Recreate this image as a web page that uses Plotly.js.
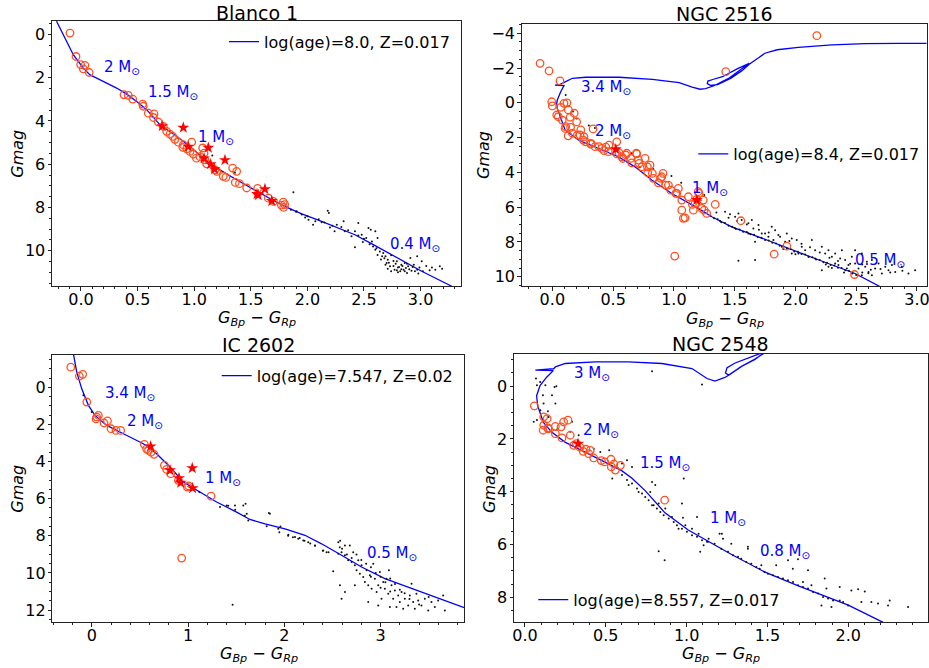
<!DOCTYPE html>
<html>
<head>
<meta charset="utf-8">
<script src="https://cdn.plot.ly/plotly-3.0.1.min.js"></script>
<style>html,body{margin:0;padding:0;background:#fff;}#chart{width:929px;height:668px;}</style>
</head>
<body>
<div id="chart"></div>
<script>
// ---------------- Data ----------------
const panelTitles = ['Blanco 1', 'NGC 2516', 'IC 2602', 'NGC 2548'];
const isoLabels = ['log(age)=8.0, Z=0.017', 'log(age)=8.4, Z=0.017', 'log(age)=7.547, Z=0.02', 'log(age)=8.557, Z=0.017'];

// Blanco 1
const b1_iso_x = [-0.216,-0.141,-0.068,0.02,0.08,0.139,0.227,0.315,0.403,0.492,0.58,0.698,0.845,0.963,1.08,1.2,1.375,1.552,1.68,1.80,1.95,2.126,2.28,2.42,2.57,2.715,2.86,3.01,3.275];
const b1_iso_y = [-0.61,0.17,0.94,1.56,1.87,2.02,2.25,2.48,2.76,3.10,3.48,4.18,4.71,5.18,5.72,6.18,6.72,7.26,7.62,7.95,8.30,8.64,8.95,9.26,9.68,10.11,10.52,10.95,11.64];
const b1_members = [[-0.097,-0.06],[-0.044,1.02],[-0.003,1.40],[0.035,1.43],[0.02,1.59],[0.073,1.76],[0.38,2.79],[0.418,2.82],[0.457,2.99],[0.545,3.22],[0.55,3.32],[0.595,3.64],[0.645,3.67],[0.64,3.84],[0.683,4.05],[0.727,4.25],[0.757,4.48],[0.786,4.61],[0.81,4.71],[0.83,4.85],[0.86,4.98],[0.904,5.10],[0.90,5.22],[0.978,4.98],[0.934,5.29],[0.963,5.41],[0.993,5.53],[1.02,5.72],[1.05,5.65],[1.075,5.25],[1.087,5.49],[1.095,5.80],[1.11,5.98],[1.184,6.26],[1.2,6.33],[1.257,6.56],[1.28,6.61],[1.34,6.18],[1.375,6.33],[1.363,6.84],[1.40,6.90],[1.464,7.10],[1.56,7.12],[1.655,7.57],[1.70,7.72],[1.787,7.75],[1.80,7.87],[1.79,8.0],[1.77,7.89]];
const b1_stars = [[0.718,4.24],[0.904,4.31],[0.948,5.19],[1.125,5.24],[1.087,5.73],[1.145,6.0],[1.18,6.23],[1.272,5.81],[1.625,7.15],[1.566,7.43],[1.555,7.38],[1.685,7.70]];
const b1_field = [[1.16,5.6],[1.36,6.4],[1.876,7.30],[1.855,8.10],[1.905,8.18],[1.95,8.33],[1.98,8.46],[2.01,8.57],[2.05,8.80],[2.07,8.64],[2.126,8.68],[2.18,8.15],[2.19,8.26],[2.20,8.92],[2.24,9.10],[2.26,8.80],[2.32,8.64],[2.33,9.10],[2.39,9.33],[2.42,9.10],[2.42,9.84],[2.45,8.72],[2.48,9.26],[2.49,9.60],[2.52,9.41],[2.54,8.95],[2.56,9.03],[2.57,9.57],[2.58,9.80],[2.60,9.10],[2.61,9.88],[2.62,9.41],[2.64,10.03],[2.66,10.26],[2.67,10.11],[2.69,10.26],[2.70,10.57],[2.71,10.42],[2.71,10.83],[2.73,10.72],[2.74,10.21],[2.74,10.95],[2.76,10.48],[2.77,10.88],[2.79,10.49],[2.80,10.77],[2.82,10.95],[2.83,10.65],[2.85,10.88],[2.86,10.57],[2.88,11.03],[2.89,10.72],[2.91,10.34],[2.92,10.92],[2.94,10.65],[2.97,10.26],[2.97,10.88],[2.99,10.77],[3.01,10.49],[3.02,10.95],[3.10,10.77],[3.13,10.88],[3.17,10.72],[3.19,10.83],
[2.78,10.6],[2.81,10.75],[2.84,10.7],[2.87,10.8],[2.90,10.85],[2.83,10.85],[2.76,10.7],[2.79,10.9],[2.86,10.95],[2.93,10.75],[2.95,10.95],[2.88,10.6],[2.72,10.55],[2.69,10.65],[2.80,11.0],[2.98,11.05],[3.05,10.7],[3.08,10.9],[2.65,10.4],[2.62,10.2],[2.55,9.7],[2.50,9.45],[2.45,9.3],[2.36,9.05],[2.30,8.9],[2.00,8.4],[1.90,8.2],[2.10,8.55],[2.15,8.7],[2.22,8.85],[2.60,9.95],[2.68,10.35]];
const b1_mass_txt = ['2', '1.5', '1', '0.4'];
const b1_mass_x = [0.183, 0.572, 1.016, 2.715];
const b1_mass_y = [1.54, 2.70, 4.78, 9.70];

// NGC 2516
const n16_iso_x = [2.70,2.49,2.16,1.913,1.695,1.476,1.312,1.20,0.983,0.818,0.68,0.543,0.379,0.214,0.105,0.063,0.041,0.036,0.041,0.069,0.096,0.022,0.06,0.11,0.165,0.275,0.549,0.823,1.043,1.15,1.216,1.26,1.33,1.45,1.55,1.62,1.52,1.40,1.32,1.28,1.275,1.30,1.36,1.47,1.56,1.62,1.70,1.749,1.85,2.025,2.30,2.574,2.85,3.08];
const n16_iso_y = [10.58,9.81,8.95,8.31,7.70,7.13,6.55,6.07,5.21,4.44,3.68,3.10,2.62,2.14,1.56,0.80,0.32,0.03,-0.16,-0.64,-0.99,-1.02,-1.05,-1.22,-1.41,-1.47,-1.47,-1.35,-1.16,-0.90,-0.78,-0.82,-0.98,-1.40,-1.90,-2.27,-1.95,-1.50,-1.34,-1.25,-1.10,-1.00,-1.05,-1.42,-1.85,-2.22,-2.60,-2.85,-3.05,-3.19,-3.33,-3.40,-3.42,-3.42];
const n16_members = [[-0.101,-2.27],[-0.027,-1.83],[0.063,-1.26],[2.176,-3.86],[1.427,-1.79],[-0.005,-0.06],[0.0,0.18],[0.069,0.26],[0.096,0.03],[0.049,0.8],[0.082,0.99],[0.132,0.41],[0.146,0.83],[0.11,1.37],[0.15,1.41],[0.165,1.75],[0.234,1.56],[0.26,1.95],[0.206,1.85],[0.275,2.24],[0.316,2.37],[0.335,1.5],[0.384,2.52],[0.426,2.75],[0.466,2.43],[0.53,2.24],[0.549,2.87],[0.604,3.0],[0.645,3.19],[0.691,2.9],[0.714,3.48],[0.763,3.19],[0.782,3.68],[0.823,4.06],[0.911,4.06],[0.892,4.34],[0.933,4.73],[0.974,5.02],[1.016,5.21],[1.065,5.59],[1.065,6.17],[1.092,6.61],[1.152,5.84],[1.207,5.21],[1.188,5.55],[1.249,6.17],[1.34,5.84],[1.007,8.81],[1.551,6.78],[1.929,8.24],[1.825,8.7],[2.486,9.87],[0.036,0.7],[0.105,1.47],[0.228,1.85],[0.255,2.14],[0.319,2.33],[0.351,2.52],[0.407,2.62],[0.461,2.81],[0.53,2.94],[0.571,3.1],[0.612,2.9],[0.695,2.94],[0.708,3.29],[0.653,3.45],[0.736,3.68],[0.804,3.58],[0.785,4.02],[0.831,4.34],[0.90,4.25],[0.872,4.6],[0.955,4.73],[1.024,5.21],[1.037,4.92],[1.119,5.4],[1.175,5.78],[1.2,5.11],[1.242,5.59],[1.16,6.17],[1.078,6.64],[1.23,6.07],[1.27,6.36],[0.18,0.6],[0.12,0.0],[0.2,1.1],[0.13,1.9],[0.44,2.55],[0.58,3.2]];
const n16_stars = [[0.522,2.67],[1.188,5.59]];
const n16_field = [[0.11,-0.45],[0.13,0.2],[0.17,0.5],[0.2,0.9],[0.3,1.3],[0.35,1.45],[0.72,3.7],[0.83,3.8],[0.9,4.5],[0.98,4.2],[1.06,4.6],[1.22,5.6],[1.25,5.3],[0.65,2.9],
[1.30,6.49],[1.33,6.64],[1.36,6.70],[1.39,6.86],[1.42,6.91],[1.45,7.07],[1.48,7.12],[1.51,7.25],[1.54,7.28],[1.57,7.41],[1.60,7.43],[1.63,7.56],[1.66,7.59],[1.69,7.72],[1.72,7.75],[1.75,7.88],[1.78,7.92],[1.81,8.05],[1.84,8.08],[1.87,8.22],[1.90,8.25],[1.93,8.38],[1.96,8.41],[1.99,8.54],[2.02,8.56],[2.05,8.69],[2.08,8.72],[2.11,8.85],[2.14,8.88],[2.17,9.01],[2.20,9.03],[2.23,9.16],[2.26,9.19],[2.29,9.32],[2.32,9.35],[2.35,9.48],[2.38,9.50],[2.41,9.63],[2.44,9.66],[2.47,9.79],
[1.421,6.26],[1.462,6.4],[1.504,6.55],[1.531,6.36],[1.613,6.93],[1.654,7.22],[1.696,7.03],[1.75,7.51],[1.833,7.32],[1.819,7.89],[1.874,7.7],[1.915,7.99],[1.97,7.8],[2.011,7.89],[1.668,7.99],[1.668,9.04],[1.531,9.08],[2.135,7.89],[2.162,8.47],[2.217,8.28],[2.245,8.66],[2.272,8.47],[2.30,8.85],[2.327,8.66],[2.368,8.95],[2.409,9.04],[2.436,9.33],[2.464,8.85],[2.519,9.52],[2.574,9.43],[2.601,9.72],[2.656,9.52],[2.711,9.81],[2.766,9.62],[2.821,9.72],[2.93,9.81],[2.217,9.62],[2.272,9.43],[2.327,9.23],[2.162,8.95],[2.025,8.66],[2.08,8.47],[1.97,8.66],[1.888,8.28],[1.778,7.7],[1.723,7.51],[1.613,7.51],[1.558,6.74],[1.641,6.74],[1.805,7.13],[1.929,7.51],[2.052,8.28],[2.107,8.85],[2.382,8.47],[2.491,8.47],[2.546,8.66],[2.629,9.04],[2.684,9.23],[2.739,9.43],[2.794,9.33],[2.876,9.43],[2.985,9.62],[2.464,9.81],[2.546,9.91],[2.629,9.91],[2.491,9.23],[2.588,9.14],[2.423,9.52],[2.354,9.33],
[1.35,6.3],[1.45,6.6],[1.52,6.8],[1.60,7.0],[1.70,7.3],[1.78,7.45],[1.86,7.6],[1.95,7.95],[2.05,8.1],[2.12,8.3],[2.20,8.6],[2.28,8.9],[2.35,9.1],[2.45,9.25],[2.55,9.3],[2.62,9.6],[2.70,9.55],[2.78,9.75],[2.88,9.65],[2.50,9.9],[2.40,9.75],[2.30,9.5],[2.60,9.8],[1.38,6.8],[1.50,7.2],[1.90,8.4],[2.00,8.7],[2.25,9.3],[2.55,9.75]];
const n16_mass_txt = ['3.4', '2', '1', '0.5'];
const n16_mass_x = [0.222, 0.337, 1.133, 2.477];
const n16_mass_y = [-0.89, 1.66, 4.92, 9.04];

// IC 2602
const ic_iso_x = [-0.191,-0.156,-0.104,-0.035,0.034,0.155,0.328,0.536,0.674,0.813,0.951,1.09,1.297,1.505,1.643,1.799,2.007,2.215,2.387,2.595,2.803,3.045,3.322,3.564,3.876];
const ic_iso_y = [-1.81,-0.82,0.08,0.97,1.51,2.05,2.5,3.04,3.58,4.29,5.1,5.55,6.18,6.72,7.12,7.35,7.62,7.97,8.43,9.05,9.68,10.31,10.85,11.3,11.89];
const ic_members = [[-0.218,-1.09],[-0.129,-0.61],[-0.094,-0.7],[-0.052,0.79],[0.052,1.6],[0.069,1.51],[0.045,1.7],[0.128,1.92],[0.163,1.81],[0.2,2.23],[0.252,2.32],[0.3,2.32],[0.546,3.07],[0.57,3.31],[0.59,3.4],[0.616,3.49],[0.647,3.61],[0.754,4.2],[0.778,4.42],[0.82,4.65],[0.9,5.01],[0.993,5.37],[1.006,5.31],[1.239,5.86],[0.934,9.2]];
const ic_stars = [[0.612,3.18],[0.813,4.47],[0.906,4.89],[0.923,5.14],[1.044,4.35],[1.048,5.43]];
const ic_field = [[-0.087,0.43],[0.0,1.33],[1.117,5.64],[1.332,6.45],[1.402,6.36],[1.488,6.36],[1.574,6.36],[1.61,6.81],[1.463,11.71],[1.418,6.38],[1.49,6.6],[1.59,6.92],[1.84,6.77],[1.817,7.49],[1.96,7.5],[1.948,7.81],[2.04,8.0],[2.09,8.08],[2.16,8.12],[2.21,8.26],[2.27,8.41],[2.32,8.53],[2.40,8.8],[2.46,8.89],[2.508,9.91],[2.576,8.62],[2.58,8.26],[1.598,6.27],[1.851,6.81],[1.626,7.17],[1.938,7.62],[2.042,7.94],[2.111,8.07],[2.145,8.16],[2.197,8.25],[2.249,8.34],[2.318,8.52],[2.405,8.79],[2.439,8.88],[2.561,8.34],[2.561,8.97],[2.595,8.88],[2.63,8.52],[2.63,9.05],[2.664,9.32],[2.681,8.52],[2.699,9.41],[2.716,8.88],[2.733,9.59],[2.751,9.86],[2.768,9.32],[2.785,10.04],[2.803,9.59],[2.82,10.22],[2.837,10.49],[2.855,9.86],[2.872,10.67],[2.889,10.13],[2.907,10.85],[2.924,9.5],[2.941,10.31],[2.959,11.03],[2.976,10.67],[2.993,9.95],[3.01,11.39],[3.028,10.49],[3.045,10.85],[3.062,10.31],[3.08,11.12],[3.087,9.86],[3.097,11.84],[3.114,10.67],[3.131,11.39],[3.149,10.94],[3.166,11.84],[3.183,11.21],[3.2,11.57],[3.218,11.03],[3.235,11.93],[3.252,11.39],[3.287,11.75],[3.304,11.21],[3.322,10.58],[3.339,11.57],[3.356,11.93],[3.373,11.12],[3.391,11.48],[3.425,11.75],[3.46,11.39],[3.495,12.02],[3.529,11.57],[3.564,11.84],[3.598,11.48],[3.65,11.21],[3.668,12.02],[2.733,10.67],[2.63,11.03],[2.578,10.67],[2.595,11.39],[2.872,11.57],[2.976,11.75],
[2.70,9.2],[2.75,9.0],[2.80,9.3],[2.85,9.5],[2.90,9.7],[2.95,10.0],[3.00,10.2],[3.05,10.5],[3.10,10.3],[3.15,10.6],[3.20,10.9],[3.25,11.1],[2.65,9.0],[2.60,8.7],[2.90,10.2],[3.00,10.8],[3.10,11.0],[3.30,11.4],[3.40,11.7],[3.50,11.3]];
const ic_mass_txt = ['3.4', '2', '1', '0.5'];
const ic_mass_x = [0.114, 0.346, 1.152, 2.837];
const ic_mass_y = [0.32, 1.83, 4.89, 8.93];

// NGC 2548
const n48_iso_x = [2.216,2.10,2.0,1.691,1.485,1.278,1.155,1.01,0.866,0.742,0.66,0.598,0.495,0.351,0.247,0.165,0.113,0.078,0.072,0.093,0.134,0.175,0.064,0.177,0.188,0.249,0.435,0.641,0.847,1.033,1.126,1.175,1.237,1.27,1.33,1.42,1.475,1.46,1.38,1.30,1.25,1.24,1.26,1.34,1.42,1.48];
const n48_iso_y = [8.95,8.60,8.30,7.57,7.05,6.38,5.95,5.45,4.80,3.95,3.48,3.2,2.88,2.44,2.12,1.74,1.36,0.74,0.36,-0.02,-0.34,-0.59,-0.61,-0.66,-0.73,-0.86,-0.92,-0.92,-0.86,-0.67,-0.29,-0.19,-0.33,-0.45,-0.72,-1.0,-1.25,-1.25,-1.07,-0.88,-0.7,-0.5,-0.42,-0.75,-1.02,-1.25];
const n48_members = [[0.058,0.75],[0.116,1.16],[0.137,1.23],[0.116,1.48],[0.112,1.67],[0.142,1.58],[0.188,1.52],[0.188,1.8],[0.223,1.54],[0.239,1.35],[0.266,1.29],[0.229,1.96],[0.28,1.86],[0.301,2.24],[0.318,2.18],[0.377,2.39],[0.404,2.43],[0.394,2.56],[0.425,2.72],[0.472,2.82],[0.493,2.87],[0.532,2.77],[0.534,3.06],[0.559,3.18],[0.59,3.0],[0.864,4.32],[0.144,1.62],[0.34,2.31],[0.36,2.47],[0.55,2.95]];
const n48_stars = [[0.328,2.18]];
const n48_field = [[0.068,-0.29],[0.094,-0.16],[0.074,-0.04],[0.126,-0.04],[0.111,0.34],[0.115,0.66],[0.167,0.34],[0.183,0.03],[0.194,0.0],[0.188,0.66],[0.095,0.91],[0.142,0.95],[0.146,1.17],[0.074,1.28],[0.054,1.35],[0.291,1.35],[0.198,1.64],[0.28,1.73],[0.332,1.86],[0.425,2.37],[0.466,2.49],[0.521,2.43],[0.631,2.81],[0.6,2.93],[0.662,3.06],[0.54,3.5],[0.786,3.63],[0.806,3.75],[0.775,4.01],[0.982,3.5],[0.971,4.45],[0.786,-0.57],[1.095,-0.06],[0.827,6.26],[0.864,6.6],[1.084,6.28],[1.136,5.78],[1.064,4.96],[0.977,4.99],
[0.6,3.37],[0.631,3.56],[0.662,3.69],[0.693,3.88],[0.724,4.07],[0.744,4.2],[0.765,4.32],[0.796,4.51],[0.816,4.64],[0.837,4.77],[0.858,4.89],[0.889,5.02],[0.92,5.15],[0.94,5.27],[0.971,5.4],[1.002,5.52],[1.033,5.65],[1.064,5.71],[1.095,5.84],[1.126,5.9],[0.641,3.75],[0.703,4.01],[0.786,4.51],[0.827,4.45],[0.868,4.64],[0.909,4.96],[0.95,5.4],[0.992,5.27],[1.033,5.4],[1.074,5.59],[1.105,6.03],
[1.132,5.9],[1.173,5.97],[1.204,5.59],[1.214,6.16],[1.225,5.78],[1.256,6.28],[1.276,5.97],[1.287,6.41],[1.318,6.47],[1.338,6.54],[1.369,6.66],[1.379,6.16],[1.4,6.73],[1.431,6.85],[1.452,6.92],[1.462,6.79],[1.482,7.04],[1.503,7.11],[1.534,7.17],[1.565,7.23],[1.596,7.29],[1.627,7.36],[1.658,7.42],[1.689,7.55],[1.72,7.61],[1.751,7.67],[1.782,7.8],[1.813,7.86],[1.844,7.99],[1.875,8.05],[1.906,8.12],[1.947,8.12],[1.968,8.18],[1.999,8.31],[1.554,6.79],[1.657,6.92],[1.72,7.42],[1.751,6.98],[1.854,7.29],[1.865,7.67],[1.947,7.61],[2.019,7.74],[2.061,7.7],[2.102,7.78],[2.081,8.18],[2.143,8.18],[2.184,8.24],[2.256,8.12],[2.246,8.31],[2.37,8.37],[1.627,6.6],[1.689,6.56],[1.218,5.59],[1.379,6.09],[1.834,8.31],[1.896,8.37],[1.772,7.55]];
const n48_mass_txt = ['3', '2', '1.5', '1', '0.8'];
const n48_mass_x = [0.289, 0.346, 0.697, 1.134, 1.443];
const n48_mass_y = [-0.49, 1.68, 2.92, 5.0, 6.27];

// ---------------- Build ----------------
const FONT = 'DejaVu Sans, Liberation Sans, sans-serif';
const ORANGE = '#ff5020';
const BLUE = '#0000ff';
const W = 929, H = 668;

const panels = [
  {iso: [b1_iso_x, b1_iso_y], mem: b1_members, star: b1_stars, fld: b1_field, mt: b1_mass_txt, mx: b1_mass_x, my: b1_mass_y,
   title: [256.5, 12.5], xt: [256.7, 318], yt: [16.7, 154]},
  {iso: [n16_iso_x, n16_iso_y], mem: n16_members, star: n16_stars, fld: n16_field, mt: n16_mass_txt, mx: n16_mass_x, my: n16_mass_y,
   title: [724.7, 13.5], xt: [724.7, 319], yt: [484, 155]},
  {iso: [ic_iso_x, ic_iso_y], mem: ic_members, star: ic_stars, fld: ic_field, mt: ic_mass_txt, mx: ic_mass_x, my: ic_mass_y,
   title: [258.8, 344.7], xt: [258.8, 654.5], yt: [16.7, 489]},
  {iso: [n48_iso_x, n48_iso_y], mem: n48_members, star: n48_stars, fld: n48_field, mt: n48_mass_txt, mx: n48_mass_x, my: n48_mass_y,
   title: [720.8, 343.5], xt: [720.8, 654.5], yt: [489, 489]}
];

const xTitle = '<i>G</i><sub><i>Bp</i></sub> − <i>G</i><sub><i>Rp</i></sub>';
const legendNames = ['legend', 'legend2', 'legend3', 'legend4'];
const traces = [];
const annotations = [];
function paperAnn(px, py, text, size, extra) {
  return Object.assign({xref: 'paper', yref: 'paper', x: px / W, y: 1 - py / H, text: text, showarrow: false,
    xanchor: 'center', yanchor: 'middle', font: {family: FONT, size: size, color: '#000'}}, extra || {});
}
panels.forEach((p, i) => {
  const s = i === 0 ? '' : String(i + 1);
  const xa = 'x' + s, ya = 'y' + s;
  traces.push({x: p.iso[0], y: p.iso[1], xaxis: xa, yaxis: ya, type: 'scatter', mode: 'lines',
    line: {color: BLUE, width: 1.3}, name: isoLabels[i], legend: legendNames[i], showlegend: true, hoverinfo: 'skip'});
  traces.push({x: p.fld.map(d => d[0]), y: p.fld.map(d => d[1]), xaxis: xa, yaxis: ya, type: 'scatter', mode: 'markers',
    marker: {color: '#111', size: 2}, showlegend: false, hoverinfo: 'skip'});
  traces.push({x: p.mem.map(d => d[0]), y: p.mem.map(d => d[1]), xaxis: xa, yaxis: ya, type: 'scatter', mode: 'markers',
    marker: {symbol: 'circle-open', color: ORANGE, size: 7.5, line: {width: 1.3, color: ORANGE}}, showlegend: false, hoverinfo: 'skip'});
  traces.push({x: p.star.map(d => d[0]), y: p.star.map(d => d[1]), xaxis: xa, yaxis: ya, type: 'scatter', mode: 'markers',
    marker: {symbol: 'star', color: '#ff0000', size: 9, line: {width: 0}}, showlegend: false, hoverinfo: 'skip'});
  p.mt.forEach((t, k) => {
    annotations.push({xref: xa, yref: ya, x: p.mx[k], y: p.my[k], text: t + ' M<sub>⊙</sub>', showarrow: false,
      xanchor: 'left', yanchor: 'middle', font: {family: FONT, size: 15, color: BLUE}});
  });
  annotations.push(paperAnn(p.title[0], p.title[1], panelTitles[i], 19));
  annotations.push(paperAnn(p.xt[0], p.xt[1], xTitle, 16, {borderpad: 0}));
  annotations.push(paperAnn(p.yt[0], p.yt[1], '<i>Gmag</i>', 16, {textangle: -90}));
});

function dom(a, b) { return [a / W, b / W]; }
function ydom(top, bot) { return [1 - bot / H, 1 - top / H]; }

function baseAxis(domain, range, dtick, minor, anchor) {
  return {domain: domain, range: range, anchor: anchor, dtick: dtick, tick0: 0,
    showline: true, mirror: true, linecolor: '#222', linewidth: 1, ticks: 'outside', ticklen: 3.5, tickwidth: 1, tickcolor: '#222',
    minor: {dtick: minor, ticks: 'outside', ticklen: 2, tickcolor: '#222', showgrid: false},
    showgrid: false, zeroline: false, ticklabeloverflow: 'allow', tickfont: {family: FONT, size: 16, color: '#000'}};
}
function xAxis(domain, range, dtick, minor, anchor, fmt) {
  return Object.assign(baseAxis(domain, range, dtick, minor, anchor), {tickformat: fmt, ticklabelstandoff: -5});
}
function yAxis(domain, range, dtick, minor, anchor) {
  return Object.assign(baseAxis(domain, range, dtick, minor, anchor), {ticklabelstandoff: -1});
}
function legendAt(px, py) {
  return {x: px / W, y: 1 - py / H, xanchor: 'left', yanchor: 'middle', bgcolor: 'rgba(0,0,0,0)', borderwidth: 0,
    font: {family: FONT, size: 16, color: '#000'}};
}

const layout = {
  width: W, height: H, margin: {l: 0, r: 0, t: 0, b: 0}, paper_bgcolor: '#fff', plot_bgcolor: '#fff',
  font: {family: FONT},
  xaxis: xAxis(dom(52, 461), [-0.256, 3.357], 0.5, 0.1, 'y', '.1f'),
  yaxis: yAxis(ydom(21, 286), [11.63, -0.62], 2, 0.5, 'x'),
  xaxis2: xAxis(dom(521.7, 926.7), [-0.252, 3.08], 0.5, 0.1, 'y2', '.1f'),
  yaxis2: yAxis(ydom(24, 286), [10.53, -4.53], 2, 0.5, 'x2'),
  xaxis3: xAxis(dom(52.3, 464.3), [-0.41, 3.87], 1, 0.2, 'y3', 'd'),
  yaxis3: yAxis(ydom(354.7, 622.3), [12.66, -1.76], 2, 0.5, 'x3'),
  xaxis4: xAxis(dom(514, 928.3), [-0.068, 2.495], 0.5, 0.1, 'y4', '.1f'),
  yaxis4: yAxis(ydom(354, 622.3), [8.95, -1.22], 2, 0.5, 'x4'),
  legend: legendAt(224, 41.7),
  legend2: legendAt(693.3, 154),
  legend3: legendAt(216.7, 375.7),
  legend4: legendAt(533.3, 599.7),
  annotations: annotations,
  showlegend: true
};

Plotly.newPlot('chart', traces, layout, {staticPlot: true, displayModeBar: false});
</script>
</body>
</html>
